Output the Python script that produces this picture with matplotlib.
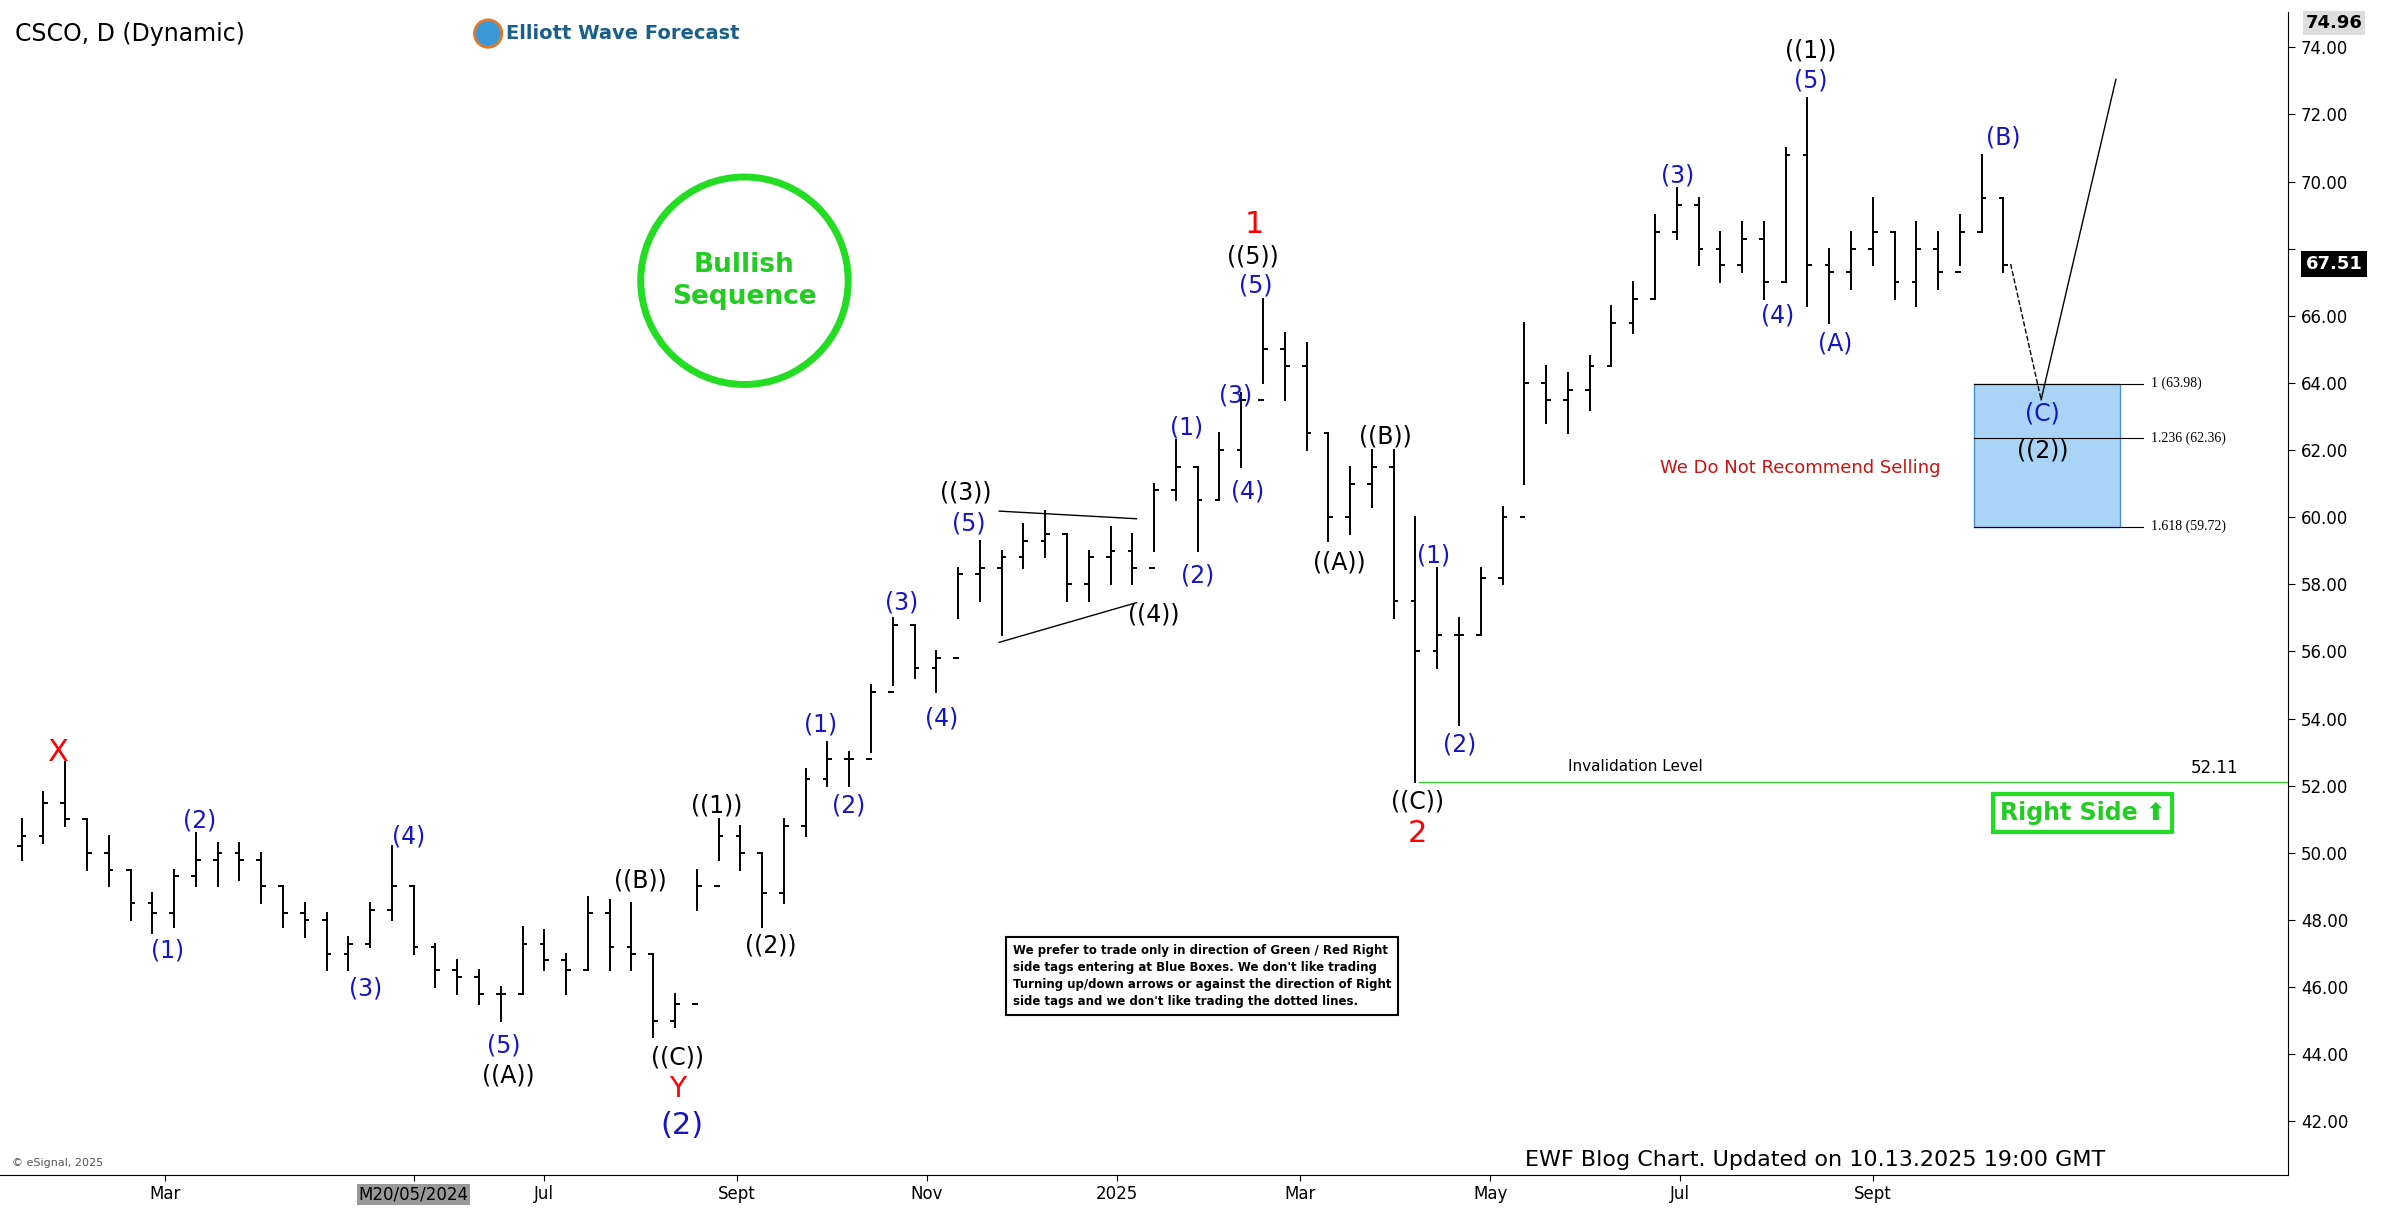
import matplotlib
matplotlib.use("Agg")
import matplotlib.pyplot as plt
import matplotlib.dates as mdates
import pandas as pd
import numpy as np
from matplotlib.patches import Ellipse, Rectangle

plt.rcParams['font.family'] = ['DejaVu Sans']

week_start = "2024-01-15"
highs = [51,51.8,52.7,51,50.5,49.5,48.8,49.5,50.6,50.3,50.3,50,49,48.5,48.2,47.5,48.5,50.2,49,47.3,46.8,46.5,46,47.8,47.7,47,48.7,48.6,48.5,47,45.8,49.5,51,50.8,50,51,52.5,53.3,53,55,57,56.8,56,58.5,59.3,59,59.8,60.2,59.5,59,59.7,59.5,61,62.3,61.5,62.5,63.7,66.5,65.5,65.2,62.5,61.5,62,62,60,58.5,57,58.5,60.3,65.8,64.5,64.3,64.8,66.3,67,69,69.8,69.5,68.5,68.8,68.8,71,72.5,68,68.5,69.5,68.5,68.8,68.5,69,70.8,69.5]
lows = [49.8,50.3,50.8,49.5,49,48,47.6,47.8,49,49,49.2,48.5,47.8,47.5,46.5,46.5,47.2,48,47,46,45.8,45.5,45,45.8,46.5,45.8,46.5,46.5,46.5,44.5,44.8,48.3,49.8,49.5,47.8,48.5,50.5,52,52,53,55,55.2,54.8,57,57.5,56.5,58.5,58.8,57.5,57.5,58,58,59,60.5,59,60.5,61.5,64,63.5,62,59.3,59.5,60.3,57,52.1,55.5,53.8,56.5,58,61,62.8,62.5,63.2,64.5,65.5,66.5,68.3,67.5,67,67.3,66.5,67,66.3,65.8,66.8,67.5,66.5,66.3,66.8,67.5,68.5,67.3]
closes = [50.5,51.5,51,50,49.5,48.5,48.2,49.3,49.8,50,49.8,49,48.2,48,47,47.3,48.3,49,47.2,46.5,46.3,45.8,45.8,47.3,46.8,46.5,48.2,47.2,47,45,45.5,49,50.5,50,48.8,50.8,52.2,52.8,52.8,54.8,56.8,55.5,55.8,58.3,58.5,58.8,59.3,59.5,58,58.8,59,58.5,60.8,61.5,60.5,62,63.5,65,64.5,62.5,60,61,61.5,57.5,56,56.5,56.5,58.2,60,64,63.5,63.8,64.5,65.8,66.5,68.5,69.3,68,67.5,68.3,67,70.8,67.5,67.3,68,68.5,67,68,67.3,68.5,69.5,67.5]
opens = [50.2] + closes[:-1]
dates = pd.date_range(week_start, periods=len(highs), freq="7D")

fib_levels = [63.98, 62.36, 59.72]
fib_names = ["1 (63.98)", "1.236 (62.36)", "1.618 (59.72)"]
invalidation = 52.11
last_price = 67.51
top_price = 74.96

W, H = 1568, 797
fig = plt.figure(figsize=(23.92, 12.16), dpi=100)
ax = fig.add_axes([0.0, 1-770/H, 1500/W, (770-8)/H])

base = pd.Timestamp("2024-03-01")
def px2d(x):
    return mdates.date2num(base + pd.Timedelta(days=(x-108)*30.4/62))
def py2p(y):
    return 74-(y-31)/22.0

ax.set_xlim(px2d(0), px2d(1500))
ax.set_ylim(py2p(770), py2p(8))

xd = mdates.date2num(dates)
off = 1.2
for x, o, h, l, c in zip(xd, opens, highs, lows, closes):
    ax.plot([x, x], [l, h], color='black', lw=1.4)
    ax.plot([x-off, x], [o, o], color='black', lw=1.4)
    ax.plot([x, x+off], [c, c], color='black', lw=1.4)

ax.yaxis.tick_right()
yt = np.arange(42, 75, 2)
ax.set_yticks(yt)
ax.set_yticklabels([f"{v:.2f}" if v != 68 else "" for v in yt], fontsize=12)
ax.tick_params(axis='y', length=5, pad=4)
ticks = ["2024-03-01","2024-05-20","2024-07-01","2024-09-01","2024-11-01","2025-01-01","2025-03-01","2025-05-01","2025-07-01","2025-09-01"]
tlabels = ["Mar","M20/05/2024","Jul","Sept","Nov","2025","Mar","May","Jul","Sept"]
ax.set_xticks(mdates.date2num(pd.to_datetime(ticks)))
ax.set_xticklabels(tlabels, fontsize=12)
ax.get_xticklabels()[1].set_bbox(dict(facecolor='#999999', edgecolor='none', pad=1))
ax.tick_params(axis='x', length=4)

def lab(x, y, t, c='#1010d0', s=17, w='normal'):
    ax.text(px2d(x), py2p(y), t, color=c, fontsize=s, ha='center', va='center', fontweight=w)

B, K, R = '#1515c8', 'black', 'red'
lab(38, 493, "X", R, 22)
for x, y, t in [(110,623,"(1)"),(131,538,"(2)"),(240,648,"(3)"),(268,548,"(4)"),(330,685,"(5)"),
                (538,475,"(1)"),(556,528,"(2)"),(591,395,"(3)"),(617,471,"(4)"),(635,343,"(5)"),
                (778,280,"(1)"),(785,377,"(2)"),(810,259,"(3)"),(818,322,"(4)"),(823,187,"(5)"),
                (940,364,"(1)"),(957,488,"(2)"),(1100,115,"(3)"),(1165,207,"(4)"),(1187,53,"(5)"),
                (1203,225,"(A)"),(1313,90,"(B)"),(1339,271,"(C)")]:
    lab(x, y, t, B)
for x, y, t in [(333,705,"((A))"),(420,577,"((B))"),(444,693,"((C))"),(470,528,"((1))"),(505,620,"((2))"),
                (633,323,"((3))"),(756,403,"((4))"),(821,168,"((5))"),(878,369,"((A))"),(908,286,"((B))"),
                (929,525,"((C))"),(1187,33,"((1))"),(1339,295,"((2))")]:
    lab(x, y, t, K)
lab(444, 714, "Y", R, 20)
lab(447, 738, "(2)", B, 22)
lab(822, 147, "1", R, 22)
lab(929, 546, "2", R, 22)

ax.plot([px2d(655), px2d(745)], [py2p(335), py2p(340)], color='black', lw=1)
ax.plot([px2d(655), px2d(745)], [py2p(421), py2p(395)], color='black', lw=1)

fig.patches.append(Ellipse((488/W, 1-184/H), 2*68/W, 2*68/H, transform=fig.transFigure,
                           fill=False, edgecolor='#22dd22', lw=5))
fig.text(488/W, 1-184/H, "Bullish\nSequence", color='#22cc22', fontsize=19, fontweight='bold',
         ha='center', va='center', linespacing=1.3)

ax.add_patch(Rectangle((px2d(1294), fib_levels[2]), px2d(1390)-px2d(1294), fib_levels[0]-fib_levels[2],
                       facecolor='#a9d4f5', edgecolor='#4a90d0', lw=1))
for lv, nm in zip(fib_levels, fib_names):
    ax.plot([px2d(1294), px2d(1405)], [lv, lv], color='black', lw=0.8)
    ax.text(px2d(1410), lv, nm, fontsize=10, va='center', family='Liberation Serif')

ax.plot([px2d(1318), px2d(1338)], [py2p(173), py2p(262)], 'k--', lw=1)
ax.plot([px2d(1338), px2d(1387)], [py2p(262), py2p(52)], 'k-', lw=1)

ax.plot([px2d(930), px2d(1500)], [invalidation]*2, color='#33cc33', lw=1)
ax.text(px2d(1072), invalidation+0.25, "Invalidation Level", fontsize=11, ha='center', va='bottom')
ax.text(px2d(1452), invalidation+0.15, f"{invalidation:.2f}", fontsize=12, ha='center', va='bottom')
ax.text(px2d(1180), py2p(307), "We Do Not Recommend Selling", color='#cc1111', fontsize=13, ha='center', va='center')
ax.text(px2d(1365), py2p(533), "Right Side \u2b06", color='#22cc22', fontsize=17, fontweight='bold', ha='center', va='center',
        bbox=dict(facecolor='white', edgecolor='#22dd22', lw=3, pad=5))

ax.text(px2d(664), py2p(640),
        "We prefer to trade only in direction of Green / Red Right\nside tags entering at Blue Boxes. We don't like trading\n"
        "Turning up/down arrows or against the direction of Right\nside tags and we don't like trading the dotted lines.",
        fontsize=8.5, fontweight='bold', ha='left', va='center', linespacing=1.4,
        bbox=dict(facecolor='white', edgecolor='black', lw=1.5, pad=5))

fig.text(10/W, 1-22/H, "CSCO, D (Dynamic)", fontsize=17, va='center')
fig.text(332/W, 1-22/H, "Elliott Wave Forecast", fontsize=14, fontweight='bold', color='#1a5e8a', va='center')
fig.patches.append(Ellipse((320/W, 1-22/H), 18/W, 18/H, transform=fig.transFigure, facecolor='#3a9ad9', edgecolor='#e07a2a', lw=2))
fig.text(1190/W, 1-760/H, "EWF Blog Chart. Updated on 10.13.2025 19:00 GMT", fontsize=16, ha='center', va='center')
fig.text(8/W, 1-762/H, "\u00a9 eSignal, 2025", fontsize=8, color='#555555', va='center')

fig.text(1530/W, 1-15/H, f"{top_price:.2f}", fontsize=13, fontweight='bold', ha='center', va='center',
         bbox=dict(facecolor='#dddddd', edgecolor='none', pad=2))
fig.text(1530/W, 1-173/H, f"{last_price:.2f}", fontsize=13, fontweight='bold', color='white', ha='center', va='center',
         bbox=dict(facecolor='black', edgecolor='none', pad=3))

for s in ['top', 'left']:
    ax.spines[s].set_visible(False)
fig.savefig("out.png", dpi=100)
